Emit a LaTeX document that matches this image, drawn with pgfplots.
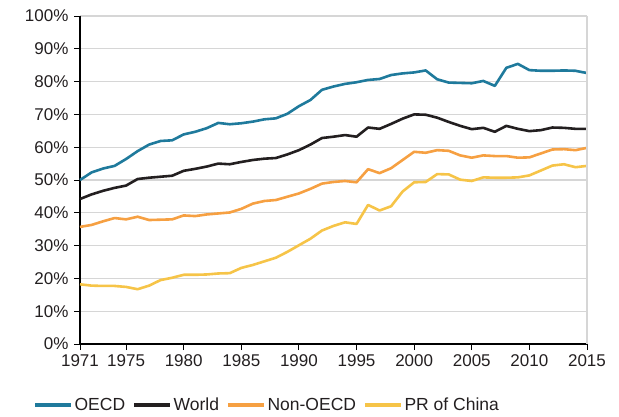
\documentclass[border=0pt]{standalone}
\usepackage{pgfplots}
\pgfplotsset{compat=1.18}
\usepackage{pgfplotstable}
\usepackage{fontspec}
\setmainfont{Liberation Sans}
\definecolor{oecd}{RGB}{31,122,156}
\definecolor{world}{RGB}{35,31,32}
\definecolor{nonoecd}{RGB}{246,160,66}
\definecolor{china}{RGB}{246,196,72}
\definecolor{gridc}{RGB}{214,214,214}
\definecolor{txt}{RGB}{35,31,32}

\pgfplotstableread{
year oecd world non china
1971 50.0 44.2 35.7 18.2
1972 52.3 45.6 36.3 17.8
1973 53.5 46.7 37.4 17.7
1974 54.3 47.6 38.4 17.7
1975 56.4 48.3 38.0 17.4
1976 58.8 50.3 38.8 16.7
1977 60.8 50.7 37.8 17.8
1978 61.9 51.0 37.9 19.5
1979 62.1 51.3 38.0 20.2
1980 63.9 52.8 39.2 21.1
1981 64.7 53.4 39.0 21.1
1982 65.8 54.1 39.5 21.2
1983 67.4 55.0 39.8 21.5
1984 67.0 54.8 40.1 21.6
1985 67.3 55.5 41.2 23.2
1986 67.8 56.1 42.8 24.1
1987 68.5 56.5 43.6 25.2
1988 68.8 56.7 43.9 26.3
1989 70.2 57.8 44.9 28.1
1990 72.5 59.1 45.9 30.1
1991 74.4 60.8 47.3 32.1
1992 77.5 62.8 48.9 34.6
1993 78.5 63.2 49.4 36.0
1994 79.3 63.7 49.7 37.1
1995 79.8 63.2 49.3 36.6
1996 80.5 66.0 53.3 42.4
1997 80.8 65.6 52.1 40.7
1998 82.0 67.1 53.6 42.0
1999 82.5 68.7 56.1 46.5
2000 82.8 70.0 58.6 49.3
2001 83.4 69.9 58.3 49.4
2002 80.7 69.0 59.1 51.8
2003 79.7 67.7 58.9 51.7
2004 79.6 66.5 57.5 50.1
2005 79.5 65.5 56.8 49.7
2006 80.2 65.9 57.5 50.8
2007 78.7 64.7 57.3 50.7
2008 84.2 66.5 57.3 50.7
2009 85.4 65.6 56.8 50.8
2010 83.5 64.9 56.9 51.4
2011 83.3 65.2 58.1 52.9
2012 83.3 66.0 59.3 54.4
2013 83.4 65.9 59.4 54.8
2014 83.3 65.6 59.1 53.9
2015 82.6 65.6 59.8 54.3
}\datatable

\begin{document}
\begin{tikzpicture}
\begin{axis}[
  scale only axis,
  width=507pt, height=328pt,
  xmin=1971, xmax=2015, ymin=0, ymax=100,
  axis lines*=left,
  axis line style={line width=1.1pt, color=black},
  xtick={1971,1975,1980,1985,1990,1995,2000,2005,2010,2015},
  ytick={0,10,...,100},
  yticklabel={\pgfmathprintnumber{\tick}\%},
  /pgf/number format/assume math mode=true,
  /pgf/number format/1000 sep={},
  tick align=outside,
  major tick length=6pt,
  tick style={line width=0.9pt, color=black},
  ymajorgrids,
  grid style={line width=1.1pt, color=gridc},
  ticklabel style={font=\fontsize{17}{20}\selectfont, text=txt},
  yticklabel style={xshift=-2pt},
  xticklabel style={yshift=-1pt},
  legend columns=-1,
  legend style={draw=none, fill=none, at={(187pt,-61pt)}, anchor=center,
    font=\fontsize{17.5}{21}\selectfont, text=txt,
    /tikz/every even column/.append style={column sep=6pt},
    nodes={inner xsep=1.5pt},
    inner sep=0pt},
  legend image code/.code={\draw[#1, line width=3.5pt] (0pt,0pt) -- (36pt,0pt);},
  every axis plot/.append style={line width=2.6pt, line join=round},
  clip=false,
]
\addplot[color=oecd, no marks] table[x=year, y=oecd] {\datatable};
\addplot[color=world, no marks] table[x=year, y=world] {\datatable};
\addplot[color=nonoecd, no marks] table[x=year, y=non] {\datatable};
\addplot[color=china, no marks] table[x=year, y=china] {\datatable};
\legend{OECD, World, Non-OECD, PR of China}
\draw[gridc, line width=1.1pt] (rel axis cs:1,0) -- (rel axis cs:1,1);
\end{axis}
\path ([xshift=-80pt,yshift=-72pt]current axis.south west) rectangle ([xshift=32pt,yshift=16pt]current axis.north east);
\end{tikzpicture}
\end{document}
